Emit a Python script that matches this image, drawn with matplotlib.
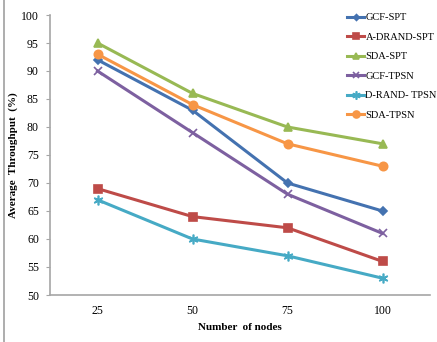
import matplotlib
matplotlib.use("Agg")
import matplotlib.pyplot as plt
from matplotlib.lines import Line2D

plt.rcParams['font.family'] = ['Liberation Serif', 'DejaVu Serif']

# Data
nodes = ['25', '50', '75', '100']
gcf_spt = [92, 83, 70, 65]
adrand_spt = [69, 64, 62, 56]
sda_spt = [95, 86, 80, 77]
gcf_tpsn = [90, 79, 68, 61]
drand_tpsn = [67, 60, 57, 53]
sda_tpsn = [93, 84, 77, 73]

series = [
    ('GCF-SPT', gcf_spt, '#4472B0', 'D', 4),
    ('A-DRAND-SPT', adrand_spt, '#BE4B48', 's', 6),
    ('SDA-SPT', sda_spt, '#98B954', '^', 6),
    ('GCF-TPSN', gcf_tpsn, '#7D60A0', 'x', 6),
    ('D-RAND- TPSN', drand_tpsn, '#46AAC5', (6, 2, 0), 7),
    ('SDA-TPSN', sda_tpsn, '#F79646', 'o', 6),
]

fig = plt.figure(figsize=(4.37, 3.42), dpi=100)
ax = fig.add_axes([50 / 437, 1 - 295 / 342, 380 / 437, 280 / 342])

xs = range(len(nodes))
handles = []
for name, vals, col, mk, ms in series:
    ax.plot(xs, vals, color=col, lw=2.2, marker=mk, markersize=ms,
            markeredgewidth=1.2, zorder=3)
    handles.append(Line2D([0], [0], color=col, lw=2.2, marker=mk,
                          markersize=ms - 1, markeredgewidth=1.2, label=name))

ax.set_xlim(-0.5, 3.5)
ax.set_ylim(50, 100)
ax.set_xticks(list(xs))
ax.set_xticklabels(nodes)
ax.set_yticks(range(50, 101, 5))
ax.tick_params(axis='x', length=0, labelsize=8.5, pad=7)
ax.tick_params(axis='y', length=3, color='#A6A6A6', labelsize=8.5, pad=5)

for s in ['top', 'right']:
    ax.spines[s].set_visible(False)
for s in ['left', 'bottom']:
    ax.spines[s].set_color('#A6A6A6')
    ax.spines[s].set_linewidth(1.2)

ax.set_xlabel('Number  of nodes', fontsize=8, fontweight='bold')
ax.xaxis.set_label_coords(0.5, -(323 - 295) / 280)
ax.set_ylabel('Average  Throughput  (%)', fontsize=8, fontweight='bold')
ax.yaxis.set_label_coords(-(50 - 18) / 380, 0.5)

fig.legend(handles=handles, loc='upper left', bbox_to_anchor=(343 / 437, 1 - 9 / 342),
           frameon=False, fontsize=7.5, handlelength=1.6, handletextpad=0.15,
           labelspacing=0.98, borderaxespad=0)

# thin grey border on the left edge of the picture
fig.add_artist(Line2D([4 / 437, 4 / 437], [0, 1], color='#A0A0A0', lw=1.2))

fig.savefig('out.png', dpi=100)
